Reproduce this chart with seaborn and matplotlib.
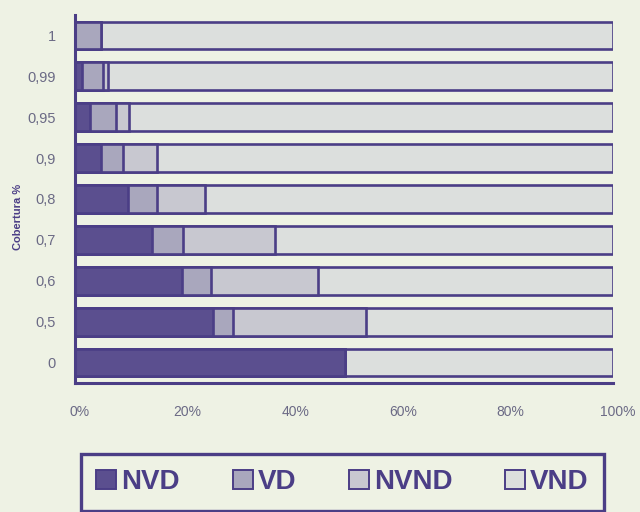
import numpy as np
import pandas as pd
import matplotlib
matplotlib.use("Agg")
import matplotlib.pyplot as plt
import matplotlib.transforms as mtransforms
from matplotlib.patches import Patch
import seaborn as sns

# ---- data ----
coverage = ["1", "0,99", "0,95", "0,9", "0,8", "0,7", "0,6", "0,5", "0"]
series_names = ["NVD", "VD", "NVND", "VND"]
nvd = [0.0, 1.3, 2.8, 4.8, 9.9, 14.4, 19.9, 25.6, 50.2]
vd = [4.9, 3.9, 4.8, 4.2, 5.3, 5.7, 5.3, 3.7, 0.0]
nvnd = [0.0, 0.9, 2.4, 6.2, 9.0, 17.1, 19.9, 24.8, 0.0]
vnd = [95.1, 93.9, 90.0, 84.8, 75.8, 62.8, 54.9, 45.9, 49.8]
xticks = [0, 20, 40, 60, 80, 100]
xtick_labels = ["0%", "20%", "40%", "60%", "80%", "100%"]

# ---- style ----
bg = "#eef2e4"
purple = "#4b3e86"
tick_col = "#6b6a85"
colors = {"NVD": "#5b4f8f", "VD": "#a9a7bd", "NVND": "#c8c8d0", "VND": "#dcdfdd"}

sns.set_theme(style="white")
plt.rcParams["font.family"] = ["Liberation Sans", "DejaVu Sans"]

df = pd.DataFrame({"cov": coverage, "NVD": nvd, "VD": vd, "NVND": nvnd, "VND": vnd})
cum = df[series_names].cumsum(axis=1)
for s in series_names:
    df["end_" + s] = cum[s]

fig = plt.figure(figsize=(6.4, 5.12), dpi=100, facecolor=bg)
ax = fig.add_axes([75 / 640, 1 - 383 / 512, 538 / 640, 368 / 512])
ax.set_facecolor(bg)

# draw from the outermost cumulative segment inward
for s in reversed(series_names):
    sns.barplot(data=df, x="end_" + s, y="cov", order=coverage, orient="h",
                color=colors[s], edgecolor=purple, linewidth=1.9,
                width=0.68, saturation=1, ax=ax, zorder=2)

ax.set_xlim(0, 100)
ax.set_ylim(len(coverage) - 0.5, -0.5)
ax.set_xticks(xticks)
ax.set_xticklabels(xtick_labels)
ax.set_xlabel("")
ax.set_ylabel("Cobertura %", fontsize=8, fontweight="bold", color=purple)
ax.yaxis.set_label_coords(-0.097, 0.45)

for sp in ["top", "right"]:
    ax.spines[sp].set_visible(False)
for sp in ["left", "bottom"]:
    ax.spines[sp].set_color(purple)
    ax.spines[sp].set_linewidth(2.2)

ax.tick_params(axis="x", direction="out", length=5, width=1.8, color=purple,
               labelsize=10, labelcolor=tick_col, pad=11)
ax.tick_params(axis="y", which="major", length=0, labelsize=10.5,
               labelcolor=tick_col, pad=14)
ax.set_yticks(np.arange(-0.5, len(coverage) - 0.5, 1.0), minor=True)
ax.tick_params(axis="y", which="minor", direction="inout", length=9, width=1.8,
               color=purple)

shift = mtransforms.ScaledTranslation(5 / 100, 0, fig.dpi_scale_trans)
for lab in ax.get_xticklabels():
    lab.set_transform(lab.get_transform() + shift)

handles = [Patch(facecolor=colors[s], edgecolor=purple, linewidth=1.4, label=s)
           for s in series_names]
leg = fig.legend(handles=handles, loc="upper left",
                 bbox_to_anchor=(81 / 640, 1 - 454 / 512), ncol=4,
                 prop={"family": "Liberation Sans", "weight": "bold", "size": 20},
                 labelcolor=purple, frameon=True, fancybox=False,
                 borderpad=0.55, handlelength=0.72, handleheight=0.7,
                 handletextpad=0.18, columnspacing=1.9, borderaxespad=0)
frame = leg.get_frame()
frame.set_edgecolor(purple)
frame.set_linewidth(2.4)
frame.set_facecolor(bg)
frame.set_alpha(1)

fig.savefig("out.png", dpi=100, facecolor=bg)
